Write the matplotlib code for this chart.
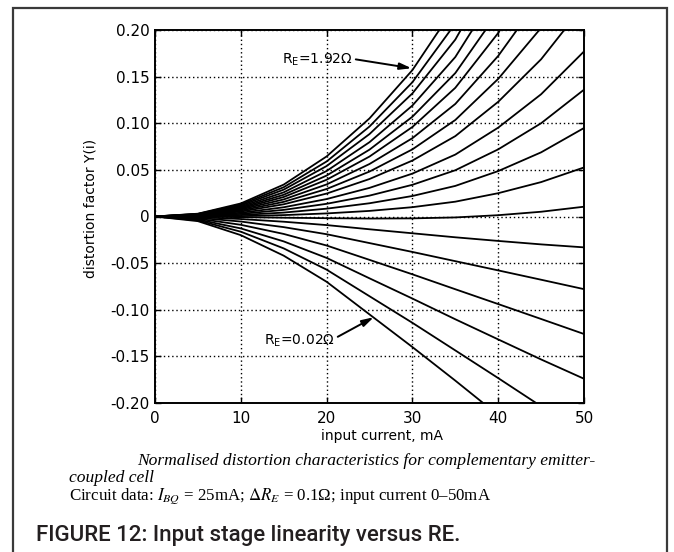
import matplotlib
matplotlib.use("Agg")
import matplotlib.pyplot as plt
from matplotlib.patches import Rectangle

# ---------------- data ----------------
current_ma = [0, 5, 10, 15, 20, 25, 30, 35, 40, 45, 50]
re_ohm = [0.02, 0.12, 0.22, 0.32, 0.42, 0.52, 0.62, 0.72, 0.82, 0.92,
          1.02, 1.12, 1.22, 1.32, 1.42, 1.52, 1.62, 1.72, 1.82, 1.92]

y_re_0_02 = [0, -0.0050, -0.0200, -0.0420, -0.0700, -0.1050, -0.1400, -0.1760, -0.2130, -0.2500, -0.2870]
y_re_0_12 = [0, -0.0041, -0.0163, -0.0342, -0.0570, -0.0855, -0.1140, -0.1436, -0.1733, -0.2035, -0.2337]
y_re_0_22 = [0, -0.0032, -0.0128, -0.0267, -0.0444, -0.0663, -0.0880, -0.1102, -0.1318, -0.1533, -0.1740]
y_re_0_32 = [0, -0.0023, -0.0089, -0.0187, -0.0311, -0.0465, -0.0620, -0.0780, -0.0939, -0.1099, -0.1260]
y_re_0_42 = [0, -0.0014, -0.0054, -0.0114, -0.0190, -0.0285, -0.0380, -0.0479, -0.0578, -0.0678, -0.0779]
y_re_0_52 = [0, -0.0007, -0.0027, -0.0056, -0.0092, -0.0137, -0.0180, -0.0223, -0.0262, -0.0299, -0.0331]
y_re_0_62 = [0, -0.0002, -0.0007, -0.0013, -0.0018, -0.0022, -0.0020, -0.0010, 0.0014, 0.0051, 0.0105]
y_re_0_72 = [0, 0.0001, 0.0004, 0.0015, 0.0033, 0.0060, 0.0100, 0.0159, 0.0250, 0.0369, 0.0526]
y_re_0_82 = [0, 0.0003, 0.0016, 0.0042, 0.0084, 0.0142, 0.0220, 0.0328, 0.0487, 0.0688, 0.0949]
y_re_0_92 = [0, 0.0006, 0.0028, 0.0071, 0.0136, 0.0224, 0.0340, 0.0496, 0.0720, 0.1000, 0.1360]
y_re_1_02 = [0, 0.0009, 0.0040, 0.0099, 0.0187, 0.0307, 0.0460, 0.0664, 0.0953, 0.1311, 0.1770]
y_re_1_12 = [0, 0.0012, 0.0053, 0.0131, 0.0246, 0.0402, 0.0600, 0.0862, 0.1230, 0.1686, 0.2268]
y_re_1_22 = [0, 0.0014, 0.0064, 0.0157, 0.0295, 0.0482, 0.0720, 0.1035, 0.1476, 0.2023, 0.2722]
y_re_1_32 = [0, 0.0016, 0.0075, 0.0183, 0.0344, 0.0563, 0.0840, 0.1207, 0.1722, 0.2360, 0.3175]
y_re_1_42 = [0, 0.0019, 0.0085, 0.0209, 0.0394, 0.0643, 0.0960, 0.1380, 0.1968, 0.2698, 0.3630]
y_re_1_52 = [0, 0.0021, 0.0095, 0.0233, 0.0439, 0.0717, 0.1070, 0.1538, 0.2194, 0.3007, 0.4045]
y_re_1_62 = [0, 0.0023, 0.0106, 0.0259, 0.0488, 0.0797, 0.1190, 0.1710, 0.2440, 0.3340, 0.4500]
y_re_1_72 = [0, 0.0026, 0.0117, 0.0288, 0.0541, 0.0884, 0.1320, 0.1897, 0.2706, 0.3710, 0.4990]
y_re_1_82 = [0, 0.0028, 0.0128, 0.0314, 0.0590, 0.0965, 0.1440, 0.2069, 0.2952, 0.4050, 0.5440]
y_re_1_92 = [0, 0.0030, 0.0140, 0.0342, 0.0644, 0.1052, 0.1570, 0.2256, 0.3219, 0.4410, 0.5930]

x_ticks = [0, 10, 20, 30, 40, 50]
x_tick_labels = ["0", "10", "20", "30", "40", "50"]
y_ticks = [0.20, 0.15, 0.10, 0.05, 0.0, -0.05, -0.10, -0.15, -0.20]
y_tick_labels = ["0.20", "0.15", "0.10", "0.05", "0", "-0.05", "-0.10", "-0.15", "-0.20"]

curves = [y_re_0_02, y_re_0_12, y_re_0_22, y_re_0_32, y_re_0_42, y_re_0_52,
          y_re_0_62, y_re_0_72, y_re_0_82, y_re_0_92, y_re_1_02, y_re_1_12,
          y_re_1_22, y_re_1_32, y_re_1_42, y_re_1_52, y_re_1_62, y_re_1_72,
          y_re_1_82, y_re_1_92]

# ---------------- figure ----------------
plt.rcParams["mathtext.fontset"] = "dejavusans"
W, H = 674, 552
fig = plt.figure(figsize=(W / 100, H / 100), dpi=100)
fig.patch.set_facecolor("white")

# outer frame
fig.patches.append(Rectangle((13 / W, -0.05), (667 - 13) / W, 1.05 - 8 / H,
                             transform=fig.transFigure, fill=False,
                             edgecolor="#3a3a3a", lw=1.6))

ax = fig.add_axes([155 / W, 1 - 403 / H, (584 - 155) / W, (403 - 30) / H])
for yv in curves:
    ax.plot(current_ma, yv, color="black", lw=1.3, solid_joinstyle="round")

ax.set_xlim(0, 50)
ax.set_ylim(-0.20, 0.20)
ax.set_xticks(x_ticks)
ax.set_xticklabels(x_tick_labels)
ax.set_yticks(y_ticks)
ax.set_yticklabels(y_tick_labels)
ax.grid(True, color="black", linestyle=(0, (1, 2)), lw=1.0)
ax.tick_params(direction="in", length=4, width=1, top=True, right=True,
               labelsize=11, pad=4)
ax.tick_params(axis="x", pad=6)
for s in ax.spines.values():
    s.set_linewidth(1.4)

# annotations
ax.text(23.1, 0.1685, r"R$_{\mathregular{E}}$=1.92Ω", ha="right", va="center", fontsize=10)
ax.annotate("", xy=(29.9, 0.159), xytext=(23.4, 0.1685),
            arrowprops=dict(arrowstyle="-|>,head_length=0.7,head_width=0.2",
                            color="black", lw=1.4, shrinkA=0, shrinkB=0))
ax.text(21.0, -0.133, r"R$_{\mathregular{E}}$=0.02Ω", ha="right", va="center", fontsize=10)
ax.annotate("", xy=(25.5, -0.108), xytext=(21.3, -0.129),
            arrowprops=dict(arrowstyle="-|>,head_length=0.7,head_width=0.2",
                            color="black", lw=1.4, shrinkA=0, shrinkB=0))

# axis labels
fig.text(91 / W, 1 - 208 / H, "distortion factor Y(i)", rotation=90,
         ha="center", va="center", fontsize=10)
fig.text(382 / W, 1 - 436 / H, "input current, mA", ha="center", va="center",
         fontsize=10)

# captions
fig.text(137 / W, 1 - 461 / H,
         "Normalised distortion characteristics for complementary emitter-",
         ha="left", va="center", fontsize=12.6, style="italic",
         family="Liberation Serif")
fig.text(69 / W, 1 - 478 / H, "coupled cell", ha="left", va="center",
         fontsize=12.6, style="italic", family="Liberation Serif")
plt.rcParams["mathtext.fontset"] = "stix"
fig.text(69 / W, 1 - 496 / H,
         r"Circuit data: $I_{BQ}$ = 25mA; $\Delta R_E$ = 0.1Ω; input current 0–50mA",
         ha="left", va="center", fontsize=12.2, family="Liberation Serif")
fig.text(36 / W, 1 - 535 / H, "FIGURE 12: Input stage linearity versus RE.",
         ha="left", va="center", fontsize=16, color="#231f20",
         family="Roboto", fontweight=500)

fig.savefig("out.png", dpi=100, facecolor="white")
